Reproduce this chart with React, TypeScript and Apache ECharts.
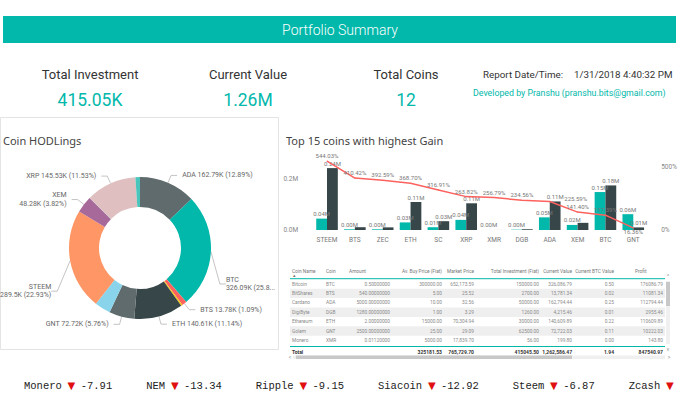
import React, { useEffect, useRef } from 'react';
import * as echarts from 'echarts';

// ---------------- data ----------------
const headerTitle = 'Portfolio Summary';
const kpiLabels = ['Total Investment', 'Current Value', 'Total Coins'];
const kpiValues = ['415.05K', '1.26M', '12'];
const reportLabel = 'Report Date/Time:';
const reportDate = '1/31/2018 4:40:32 PM';
const developer = 'Developed by Pranshu (pranshu.bits@gmail.com)';

const holdingCoins = ['ADA', 'BTC', 'BTS', 'DGB', 'ETH', 'GNT', 'SC', 'STEEM', 'XEM', 'XMR', 'XRP', 'ZEC'];
const holdingValuesK = [162.79, 326.09, 13.78, 4.22, 140.61, 72.72, 45.81, 289.5, 48.28, 0.2, 145.53, 13.05];
const hiddenHoldingLabels = ['DGB', 'SC', 'XMR', 'ZEC'];
const wrappedHoldingLabels = ['XEM', 'STEEM', 'BTC'];

const gainCoins = ['STEEM', 'BTS', 'ZEC', 'ETH', 'SC', 'XRP', 'XMR', 'DGB', 'ADA', 'XEM', 'BTC', 'GNT'];
const gainInvestment = [44950, 2700, 2650, 30000, 10990, 40000, 56, 1260, 50000, 20000, 150000, 62500];
const gainProfit = [244550, 11081.34, 10404, 110609.89, 34830, 105530, 143.8, 2955.46, 112794.44, 28280, 176086.79, 10222.03];
const gainPercent = [544.03, 410.42, 392.59, 368.7, 316.91, 263.82, 256.79, 234.56, 225.59, 141.4, 117.39, 16.36];
const hiddenProfitLabels = ['BTS', 'ZEC', 'XMR', 'DGB', 'XEM'];

const tableHeaders = ['Coin Name', 'Coin', 'Amount', 'Av. Buy Price (Fiat)', 'Market Price', 'Total Investment (Fiat)', 'Current Value', 'Current BTC Value', 'Profit'];
const tableRows = [
  ['Bitcoin', 'BTC', '0.50000000', '300000.00', '652,173.59', '150000.00', '326,086.79', '0.50', '176086.79'],
  ['BitShares', 'BTS', '540.00000000', '5.00', '25.52', '2700.00', '13,781.34', '0.02', '11081.34'],
  ['Cardano', 'ADA', '5000.00000000', '10.00', '32.56', '50000.00', '162,794.44', '0.25', '112794.44'],
  ['DigiByte', 'DGB', '1280.00000000', '1.00', '3.29', '1260.00', '4,215.46', '0.01', '2955.46'],
  ['Ethereum', 'ETH', '2.00000000', '15000.00', '70,304.94', '30000.00', '140,609.89', '0.22', '110609.89'],
  ['Golem', 'GNT', '2500.00000000', '25.00', '29.09', '62500.00', '72,722.03', '0.11', '10222.03'],
  ['Monero', 'XMR', '0.01120000', '5000.00', '17,839.70', '56.00', '199.80', '0.00', '143.80'],
];
const tableTotals = ['Total', '', '', '325181.53', '765,729.70', '415045.50', '1,262,586.47', '1.94', '847540.97'];

const tickerNames = ['Monero', 'NEM', 'Ripple', 'Siacoin', 'Steem', 'Zcash'];
const tickerChanges: (number | null)[] = [-7.91, -13.34, -9.15, -12.92, -6.87, null];

// ---------------- styles / layout ----------------
const TEAL = '#01B8AA';
const DARK = '#374649';
const RED = '#FD625E';
const holdingColors = ['#5F6B6D', '#01B8AA', '#FD625E', '#F2C80F', '#374649', '#5F6B6D', '#8AD4EB', '#FE9666', '#A66999', '#3599B8', '#DFBFBF', '#4AC5BB'];
const labelShift: Record<string, [number, number]> = { BTC: [-4, 32], STEEM: [0, 29] };
const lineLabelTweaks: Record<string, any> = {
  ADA: { position: 'right', distance: 14, offset: [0, -3] },
  GNT: { position: 'bottom', distance: 0 },
};
const FONT = 'Roboto, "Noto Sans", sans-serif';

// table layout
const colAnchor = [292, 326, 390, 442, 474, 539, 572, 614, 663];
const colAlign = ['left', 'left', 'right', 'right', 'right', 'right', 'right', 'right', 'right'];
const headAnchor = [292, 326, 349, 442, 474, 539, 572, 614, 635];
const headAlign = ['left', 'left', 'left', 'right', 'right', 'right', 'right', 'right', 'left'];
const headY = 271;
const rowY0 = 284;
const rowH = 9.4;
const totalY = 352;
const TABLE_FS = 4.8;

function txt(x: number, y: number, text: string, size: number, color: string, o: any = {}) {
  const align = o.align || 'left';
  return {
    type: 'text',
    x,
    y,
    silent: true,
    z: 10,
    style: {
      text,
      fill: color,
      fontSize: size,
      fontFamily: o.family || FONT,
      fontWeight: o.weight || 'normal',
      align,
      textAlign: align,
      verticalAlign: 'middle',
      textVerticalAlign: 'middle',
    },
  };
}

function buildGraphics() {
  const g: any[] = [];
  // header
  g.push({ type: 'rect', shape: { x: 3, y: 16, width: 673, height: 27 }, style: { fill: TEAL }, silent: true });
  g.push(txt(340, 29.5, headerTitle, 14, '#ffffff', { align: 'center', weight: 300 }));
  // KPIs
  const kx = [90, 248, 406];
  kpiLabels.forEach((l, i) => {
    g.push(txt(kx[i], 74, l, 13, '#333333', { align: 'center' }));
    g.push(txt(kx[i], 100, kpiValues[i], 17.5, TEAL, { align: 'center' }));
  });
  g.push(txt(483, 74, reportLabel, 9.8, '#333333'));
  g.push(txt(574, 74, reportDate, 9.8, '#333333'));
  g.push(txt(473, 93, developer, 8.8, TEAL));
  // left panel frame
  g.push({ type: 'rect', shape: { x: 0.5, y: 117.5, width: 278, height: 232 }, style: { fill: 'none', stroke: '#e4e4e4', lineWidth: 1 }, silent: true });
  g.push(txt(3, 140, 'Coin HODLings', 11, '#444444', { family: '"Noto Sans", sans-serif' }));
  g.push(txt(286, 140, 'Top 15 coins with highest Gain', 11, '#444444', { family: '"Noto Sans", sans-serif' }));

  // table
  tableRows.forEach((_, i) => {
    if (i % 2 === 1) {
      g.push({ type: 'rect', shape: { x: 290, y: rowY0 + i * rowH - rowH / 2, width: 375, height: rowH }, style: { fill: '#efefef' }, silent: true });
    }
  });
  tableHeaders.forEach((h, c) => g.push(txt(headAnchor[c], headY, h, TABLE_FS, '#777777', { align: headAlign[c] })));
  g.push({ type: 'text', x: 293, y: 275.5, silent: true, style: { text: '▴', fill: '#777', fontSize: 4.5, align: 'left', verticalAlign: 'middle' } });
  g.push({ type: 'line', shape: { x1: 290, y1: 278.7, x2: 665, y2: 278.7 }, style: { stroke: TEAL, lineWidth: 1 }, silent: true });
  tableRows.forEach((row, i) => {
    row.forEach((cell, c) => g.push(txt(colAnchor[c], rowY0 + i * rowH, cell, TABLE_FS, '#8a8a8a', { align: colAlign[c] })));
  });
  g.push({ type: 'line', shape: { x1: 290, y1: 346.5, x2: 665, y2: 346.5 }, style: { stroke: TEAL, lineWidth: 1 }, silent: true });
  tableTotals.forEach((cell, c) => {
    if (cell) g.push(txt(colAnchor[c], totalY, cell, 5, '#333333', { align: colAlign[c], weight: 'bold' }));
  });
  // scrollbars
  g.push({ type: 'rect', shape: { x: 666, y: 281, width: 4, height: 63 }, style: { fill: '#f0f0f0' }, silent: true });
  g.push({ type: 'rect', shape: { x: 666, y: 282, width: 4, height: 24 }, style: { fill: '#c8c8c8' }, silent: true });
  g.push(txt(668, 276, '^', 5, '#888', { align: 'center' }));
  g.push(txt(668, 349, 'v', 5, '#888', { align: 'center' }));
  g.push({ type: 'rect', shape: { x: 293, y: 355.5, width: 372, height: 3.5 }, style: { fill: '#f0f0f0' }, silent: true });
  g.push({ type: 'rect', shape: { x: 296, y: 355.5, width: 276, height: 3.5 }, style: { fill: '#c8c8c8' }, silent: true });
  g.push(txt(290, 357, '<', 5, '#888', { align: 'center' }));
  g.push(txt(669, 357, '>', 5, '#888', { align: 'center' }));

  // ticker
  const cw = 6.3;
  let x = 24;
  tickerNames.forEach((n, i) => {
    const ch = tickerChanges[i];
    const mono = '"Liberation Mono", "DejaVu Sans Mono", monospace';
    g.push(txt(x, 385.5, n, 10.5, '#222222', { family: mono }));
    g.push(txt(x + (n.length + 1) * cw - 0.5, 385, '▼', 10, '#e01010', { family: '"DejaVu Sans", sans-serif' }));
    const vs = ch == null ? '' : ch.toFixed(2);
    if (vs) g.push(txt(x + (n.length + 3) * cw, 385.5, vs, 10.5, '#222222', { family: mono }));
    x += (n.length + 3 + vs.length) * cw + 34;
  });
  return g;
}

const holdingTotal = holdingValuesK.reduce((a, b) => a + b, 0);

function buildOption(): any {
  const small = { fontSize: 6, color: '#777777', fontFamily: FONT };
  return {
    animation: false,
    backgroundColor: '#ffffff',
    graphic: { elements: buildGraphics() },
    grid: { left: 313.1, right: 32.8, top: 160.4, bottom: 167, containLabel: false },
    xAxis: {
      type: 'category',
      data: gainCoins,
      axisLine: { show: false },
      axisTick: { show: false },
      axisLabel: { fontSize: 6.5, color: '#777777', margin: 6, interval: 0, fontFamily: FONT },
    },
    yAxis: [
      {
        type: 'value',
        min: 0,
        max: 275000,
        interval: 200000,
        splitLine: { show: false },
        axisLabel: { fontSize: 6.5, color: '#888888', margin: 15, showMaxLabel: false, fontFamily: FONT, formatter: (v: number) => (v / 1e6).toFixed(1) + 'M' },
      },
      {
        type: 'value',
        min: 0,
        max: 550,
        interval: 500,
        splitLine: { show: false },
        axisLabel: { fontSize: 6.5, color: '#888888', margin: 14, showMaxLabel: false, fontFamily: FONT, formatter: (v: number) => v + '%' },
      },
    ],
    series: [
      {
        type: 'pie',
        center: [140, 248],
        radius: [41, 71],
        startAngle: 90,
        clockwise: true,
        avoidLabelOverlap: false,
        label: {
          show: true,
          position: 'outside',
          fontSize: 7,
          lineHeight: 8.5,
          color: '#666666',
          fontFamily: FONT,
          formatter: (p: any) => {
            const pct = ((p.value / holdingTotal) * 100).toFixed(2);
            const v = p.value + 'K';
            return wrappedHoldingLabels.includes(p.name) ? `${p.name}\n${v} (${pct}%)` : `${p.name} ${v} (${pct}%)`;
          },
        },
        labelLine: { show: true, length: 8, length2: 6, lineStyle: { color: '#aaaaaa', width: 0.7 } },
        labelLayout: (p: any) => {
          const s = labelShift[holdingCoins[p.dataIndex]];
          if (!s) return {};
          const r = p.labelRect;
          return {
            x: (p.align === 'right' ? r.x + r.width : r.x) + s[0],
            y: r.y + s[1],
            align: p.align,
            verticalAlign: 'top',
          };
        },
        data: holdingCoins.map((c, i) => {
          const item: any = { name: c, value: holdingValuesK[i], itemStyle: { color: holdingColors[i] } };
          if (hiddenHoldingLabels.includes(c)) {
            item.label = { show: false };
            item.labelLine = { show: false };
          } else if (c === 'BTC') {
            item.label = { width: 54, overflow: 'truncate', ellipsis: '...' };
          }
          return item;
        }),
      },
      {
        type: 'bar',
        name: 'Investment',
        barWidth: 10.8,
        barGap: '0%',
        itemStyle: { color: TEAL },
        label: { show: true, position: 'top', distance: 2, ...small, formatter: (p: any) => (p.value / 1e6).toFixed(2) + 'M' },
        data: gainInvestment,
      },
      {
        type: 'bar',
        name: 'Profit',
        barWidth: 10.8,
        barGap: '0%',
        itemStyle: { color: DARK },
        label: { show: true, position: 'top', distance: 2, ...small, formatter: (p: any) => (p.value / 1e6).toFixed(2) + 'M' },
        data: gainProfit.map((v, i) => (hiddenProfitLabels.includes(gainCoins[i]) ? { value: v, label: { show: false } } : v)),
      },
      {
        type: 'line',
        name: 'Gain %',
        yAxisIndex: 1,
        data: gainPercent.map((v, i) => (lineLabelTweaks[gainCoins[i]] ? { value: v, label: lineLabelTweaks[gainCoins[i]] } : v)),
        symbol: 'circle',
        symbolSize: 1,
        itemStyle: { color: RED },
        lineStyle: { color: RED, width: 1.5 },
        label: { show: true, position: 'top', distance: 2, ...small, formatter: (p: any) => Number(p.value).toFixed(2) + '%' },
        z: 5,
      },
    ],
  };
}

export default function App() {
  const ref = useRef<HTMLDivElement>(null);
  useEffect(() => {
    const chart = echarts.init(ref.current as HTMLDivElement, null, { renderer: 'svg' });
    chart.setOption(buildOption());
    return () => chart.dispose();
  }, []);
  return <div ref={ref} style={{ position: 'fixed', left: 0, top: 0, width: 680, height: 397, background: '#ffffff' }} />;
}
